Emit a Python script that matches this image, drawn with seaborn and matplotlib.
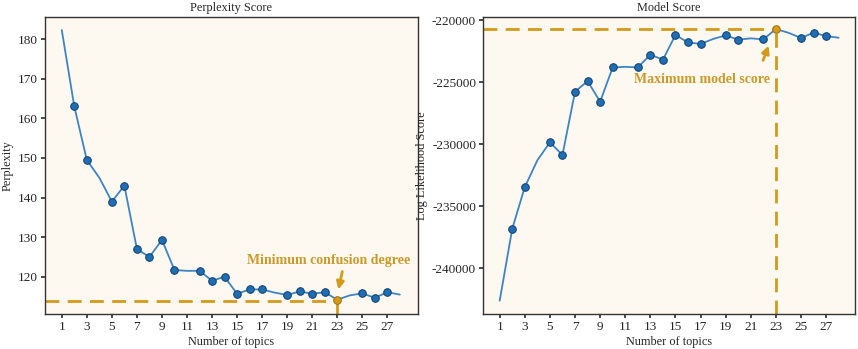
import matplotlib
matplotlib.use("Agg")
import matplotlib.pyplot as plt
import seaborn as sns
import pandas as pd
import numpy as np

sns.set_theme(style="ticks")
plt.rcParams['font.family'] = ['Liberation Serif', 'DejaVu Serif']

topics = list(range(1, 29))
perplexity = [182.3, 163.0, 149.5, 145.0, 139.0, 143.0, 127.0, 125.0, 129.3, 121.7,
              121.5, 121.5, 119.0, 120.0, 115.7, 116.8, 116.8, 116.0, 115.4, 116.3,
              115.7, 116.1, 114.2, 115.3, 115.8, 114.7, 116.1, 115.5]
perp_marked = [2, 3, 5, 6, 7, 8, 9, 10, 12, 13, 14, 15, 16, 17, 19, 20, 21, 22, 25, 26, 27]
loglik = [-242640, -236830, -233460, -231300, -229850, -230870, -225760, -224900, -226570, -223800,
          -223750, -223800, -222770, -223170, -221180, -221780, -221900, -221500, -221210, -221560,
          -221450, -221530, -220700, -221000, -221420, -220990, -221260, -221400]
ll_marked = [2, 3, 5, 6, 7, 8, 9, 10, 12, 13, 14, 15, 16, 17, 19, 20, 22, 25, 26, 27]
best_k = 23
xticks = list(range(1, 28, 2))

df = pd.DataFrame({"topics": topics, "perplexity": perplexity, "loglik": loglik})

LINE = "#3D85C6"
MARK = "#1F6DB3"
EDGE = "#0E3F6E"
GOLD = "#D49A1A"
TXT = "#CC9A28"
BG = "#FDF8F0"

fig = plt.figure(figsize=(8.58, 3.49), dpi=100)
ax1 = fig.add_axes([45/858, 1-314/349, 373/858, 297/349])
ax2 = fig.add_axes([483/858, 1-314/349, 372/858, 297/349])

def draw(ax, col, marked, title, ylabel):
    ax.set_facecolor(BG)
    sns.lineplot(data=df, x="topics", y=col, ax=ax, color=LINE, linewidth=1.3, zorder=2)
    sub = df[df["topics"].isin(marked)]
    sns.scatterplot(data=sub, x="topics", y=col, ax=ax, color=MARK, s=30,
                    edgecolor=EDGE, linewidth=0.7, zorder=3)
    best = df[df["topics"] == best_k]
    sns.scatterplot(data=best, x="topics", y=col, ax=ax, color=GOLD, s=30,
                    edgecolor="#9C6E0A", linewidth=0.7, zorder=4)
    ax.set_xticks(xticks)
    ax.set_title(title, fontsize=8.8, pad=4)
    ax.set_xlabel("Number of topics", fontsize=8.8, labelpad=2)
    ax.set_ylabel(ylabel, fontsize=8.8, labelpad=3)
    ax.tick_params(labelsize=9.5, length=3, pad=2, color="#333333")
    for s in ax.spines.values():
        s.set_color("#333333")
        s.set_linewidth(1.0)

draw(ax1, "perplexity", perp_marked, "Perplexity Score", "Perplexity")
draw(ax2, "loglik", ll_marked, "Model Score", "Log Likelihood Score")

ax1.set_xlim(-0.34, 29.45)
ax1.set_ylim(110.6, 185.6)
ax1.set_yticks([120, 130, 140, 150, 160, 170, 180])
pmin = perplexity[best_k - 1]
ax1.plot([-0.34, best_k], [pmin - 0.3, pmin - 0.3], ls=(0, (5, 3)), color=GOLD, lw=2, zorder=1)
ax1.plot([best_k, best_k], [110.6, pmin], ls=(0, (5, 3)), color=GOLD, lw=2, zorder=1)
ax1.annotate("", xy=(23.05, 116.1), xytext=(23.45, 122.0),
             arrowprops=dict(arrowstyle="-|>", color=GOLD, lw=2, mutation_scale=11))
ax1.text(22.3, 124.0, "Minimum confusion degree", color=TXT, fontsize=10,
         fontweight="bold", ha="center", va="center")

ax2.set_xlim(-0.33, 29.3)
ax2.set_ylim(-243715, -219725)
ax2.set_yticks([-240000, -235000, -230000, -225000, -220000])
ax2.set_yticklabels([str(v) for v in [-240000, -235000, -230000, -225000, -220000]])
lmax = loglik[best_k - 1]
ax2.plot([-0.33, best_k], [lmax + 30, lmax + 30], ls=(0, (5, 3)), color=GOLD, lw=2, zorder=1)
ax2.plot([best_k, best_k], [-243715, lmax], ls=(0, (5, 3)), color=GOLD, lw=2, zorder=1)
ax2.annotate("", xy=(22.5, -221830), xytext=(21.9, -223440),
             arrowprops=dict(arrowstyle="-|>", color=GOLD, lw=2, mutation_scale=11))
ax2.text(17.1, -224790, "Maximum model score", color=TXT, fontsize=10,
         fontweight="bold", ha="center", va="center")

fig.savefig("out.png", dpi=100)
